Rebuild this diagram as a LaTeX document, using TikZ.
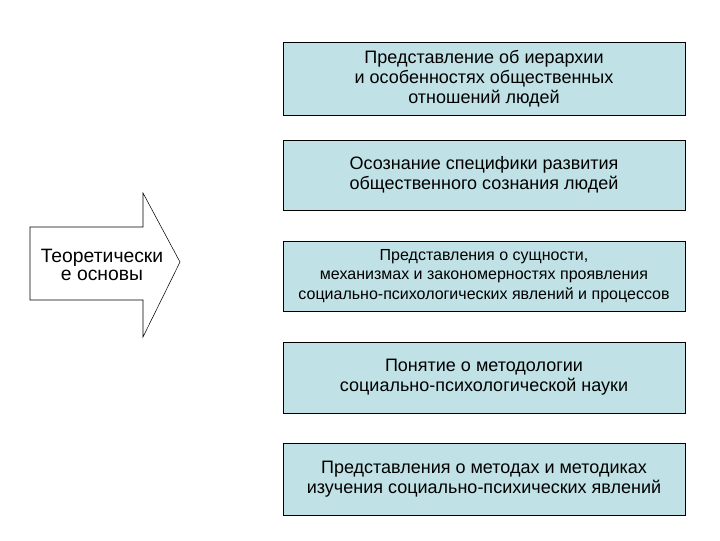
\documentclass[tikz,border=0pt]{standalone}
\usepackage{fontspec}
\setmainfont{Liberation Sans}
\definecolor{boxfill}{RGB}{192,226,230}
\begin{document}
\begin{tikzpicture}[x=0.75pt,y=-0.75pt,
 infobox/.style={draw=black,fill=boxfill,minimum width=301.5pt,align=center,inner sep=0pt,font=\fontsize{13.5}{15}\selectfont}]
\useasboundingbox (0,0) rectangle (720,540);
\draw[fill=white] (30,227) -- (143,227) -- (143,193) -- (180,262) -- (143,337) -- (143,300) -- (30,300) -- cycle;
\node[align=center,font=\fontsize{14.5}{13.5}\selectfont] (arr) at (102,265) {Теоретически\\е основы};
\node[infobox,minimum height=54.75pt] (b1) at (484,78.5) {Представление об иерархии\\и особенностях общественных\\отношений людей};
\node[infobox,minimum height=52.5pt] (b2) at (484,175) {Осознание специфики развития\\общественного сознания людей};
\node[infobox,minimum height=52.5pt,font=\fontsize{12}{14.6}\selectfont] (b3) at (484,276) {Представления о сущности,\\механизмах и закономерностях проявления\\социально-психологических явлений и процессов};
\node[infobox,minimum height=53.25pt] (b4) at (484,377.5) {Понятие о методологии\\социально-психологической науки};
\node[infobox,minimum height=54pt] (b5) at (484,479) {Представления о методах и методиках\\изучения социально-психических явлений};
\end{tikzpicture}
\end{document}
